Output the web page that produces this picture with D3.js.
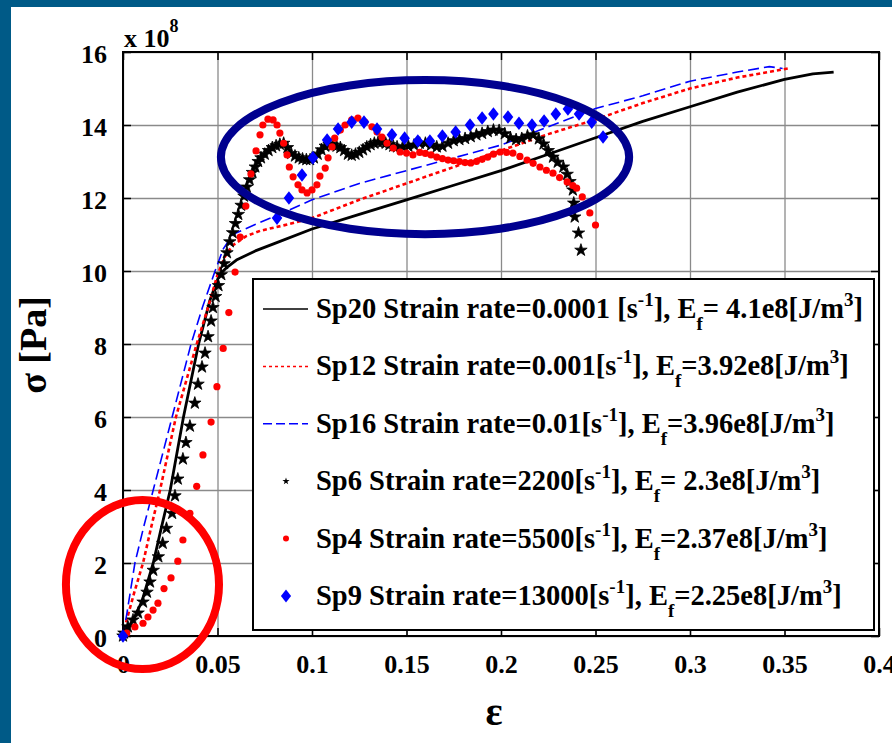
<!DOCTYPE html>
<html>
<head>
<meta charset="utf-8">
<script src="https://cdn.jsdelivr.net/npm/d3@7"></script>
<style>
  body { margin: 0; background: #fff; }
  svg { display: block; }
</style>
</head>
<body>
<script>
'use strict';

// ticks
var xTicks = [0, 0.05, 0.1, 0.15, 0.2, 0.25, 0.3, 0.35, 0.4];
var xTickLabels = ['0', '0.05', '0.1', '0.15', '0.2', '0.25', '0.3', '0.35', '0.4'];
var yTicks = [0, 2, 4, 6, 8, 10, 12, 14, 16];
var yTickLabels = ['0', '2', '4', '6', '8', '10', '12', '14', '16'];

// series: [strain, stress / 1e8 Pa]
var sp20 = [[0,0],[0.005,0.4],[0.01,0.95],[0.016,2.0],[0.02,2.9],[0.025,4.0],[0.032,6.0],[0.04,8.0],
  [0.046,9.2],[0.051,9.9],[0.055,10.1],[0.06,10.3],[0.07,10.55],[0.08,10.75],[0.1,11.15],[0.125,11.55],
  [0.15,11.95],[0.175,12.35],[0.2,12.75],[0.225,13.2],[0.25,13.65],[0.275,14.1],[0.3,14.5],[0.325,14.9],
  [0.35,15.25],[0.365,15.4],[0.376,15.45]];

var sp12 = [[0,0],[0.002,0.45],[0.006,1.2],[0.0106,2],[0.015,3],[0.0196,4],[0.028,6],[0.039,8],[0.045,9],
  [0.05,9.9],[0.054,10.4],[0.058,10.7],[0.065,10.95],[0.0725,11.1],[0.085,11.25],[0.1,11.45],[0.125,11.95],
  [0.15,12.4],[0.175,12.85],[0.2,13.3],[0.225,13.75],[0.25,14.15],[0.275,14.6],[0.3,15.0],[0.325,15.3],[0.352,15.55]];

var sp16 = [[0,0],[0.002,0.6],[0.0063,2],[0.011,3],[0.016,4],[0.026,6],[0.036,8],[0.042,9],[0.0487,10],
  [0.053,10.6],[0.058,11.0],[0.071,11.3],[0.085,11.6],[0.1,11.95],[0.125,12.4],[0.15,12.75],[0.175,13.1],
  [0.2,13.45],[0.225,13.95],[0.25,14.45],[0.275,14.8],[0.3,15.2],[0.325,15.45],[0.342,15.6],[0.349,15.55]];

var sp6 = [[0,0],[0.0005,0.08],[0.0026,0.25],[0.0053,0.44],[0.008,0.63],[0.0106,0.93],[0.0127,1.2],[0.0143,1.48],
  [0.016,1.8],[0.0187,2.17],[0.021,2.54],[0.023,2.95],[0.026,3.36],[0.0275,3.84],[0.029,4.3],[0.0317,4.85],
  [0.0333,5.3],[0.0354,5.75],[0.038,6.38],[0.0397,6.9],[0.0418,7.37],[0.0434,7.75],[0.045,8.2],[0.0466,8.63],
  [0.0476,9.0],[0.049,9.3],[0.0505,9.6],[0.052,9.9],[0.0535,10.2],[0.055,10.5],[0.0565,10.8],[0.058,11.05],
  [0.0595,11.3],[0.061,11.55],[0.0625,11.8],[0.064,12.05],[0.0655,12.3],[0.067,12.5],[0.0685,12.7],[0.07,12.85],
  [0.0715,13.0],[0.073,13.1],[0.075,13.2],[0.077,13.3],[0.079,13.38],[0.081,13.43],[0.083,13.47],[0.085,13.5],
  [0.087,13.38],[0.089,13.22],[0.091,13.15],[0.093,13.1],[0.095,13.07],[0.097,13.05],[0.099,13.05],[0.101,13.1],
  [0.103,13.2],[0.105,13.32],[0.107,13.42],[0.109,13.47],[0.111,13.45],[0.113,13.42],[0.115,13.38],[0.117,13.3],
  [0.119,13.2],[0.121,13.17],[0.123,13.2],[0.125,13.25],[0.127,13.32],[0.129,13.4],[0.131,13.46],[0.133,13.5],
  [0.135,13.53],[0.137,13.53],[0.139,13.5],[0.141,13.46],[0.143,13.42],[0.145,13.4],[0.148,13.4],[0.151,13.42],
  [0.154,13.45],[0.157,13.5],[0.16,13.5],[0.163,13.45],[0.166,13.4],[0.169,13.42],[0.172,13.5],[0.175,13.57],
  [0.178,13.6],[0.181,13.63],[0.184,13.68],[0.187,13.73],[0.19,13.77],[0.193,13.82],[0.196,13.86],[0.199,13.85],
  [0.202,13.76],[0.205,13.65],[0.208,13.6],[0.211,13.63],[0.214,13.7],[0.217,13.73],[0.22,13.62],[0.2225,13.48],
  [0.225,13.3],[0.2275,13.12],[0.23,12.98],[0.233,12.85],[0.235,12.65],[0.2365,12.45],[0.238,12.22],
  [0.2385,11.86],[0.239,11.48],[0.241,11.04],[0.2423,10.57]];

var sp4 = [[0,0],[0.002,0.08],[0.0063,0.25],[0.0106,0.35],[0.0132,0.52],[0.0159,0.71],[0.0185,0.9],[0.0217,1.3],
  [0.0254,1.59],[0.029,2.05],[0.0317,2.63],[0.0354,3.36],[0.039,4.1],[0.0423,4.96],[0.0466,5.86],[0.0497,6.83],
  [0.053,7.88],[0.056,8.86],[0.0593,9.97],[0.062,10.93],[0.065,11.78],[0.0677,12.66],[0.0704,13.29],[0.0725,13.73],
  [0.074,14.0],[0.0767,14.16],[0.0794,14.14],[0.0815,14.0],[0.083,13.78],[0.085,13.5],[0.0868,13.18],[0.088,12.85],
  [0.09,12.58],[0.0926,12.36],[0.0947,12.22],[0.0974,12.14],[0.1,12.22],[0.1026,12.36],[0.1042,12.6],[0.107,12.82],
  [0.1085,13.1],[0.1106,13.4],[0.112,13.64],[0.115,13.86],[0.1175,14.0],[0.121,14.14],[0.1243,14.19],[0.128,14.08],
  [0.1317,13.95],[0.1344,13.81],[0.137,13.67],[0.1397,13.5],[0.143,13.37],[0.1466,13.26],[0.15,13.23],[0.1534,13.18],
  [0.157,13.25],[0.16,13.22],[0.163,13.18],[0.166,13.12],[0.169,13.08],[0.172,13.04],[0.175,13.02],[0.178,13.0],
  [0.181,12.97],[0.184,12.96],[0.187,13.0],[0.19,13.06],[0.193,13.12],[0.196,13.2],[0.1995,13.26],[0.203,13.25],
  [0.2063,13.23],[0.21,13.14],[0.2138,13.04],[0.217,12.95],[0.2206,12.85],[0.224,12.76],[0.2275,12.68],[0.231,12.56],
  [0.235,12.44],[0.238,12.34],[0.24,12.27],[0.243,12.03],[0.247,11.59],[0.25,11.26]];

var sp9 = [[0,0],[0.0815,11.45],[0.0878,12.0],[0.0947,12.63],[0.1005,13.1],[0.108,13.59],[0.1138,13.89],[0.121,14.08],
  [0.1275,14.08],[0.1344,13.89],[0.1423,13.73],[0.149,13.64],[0.156,13.56],[0.1624,13.56],[0.169,13.7],[0.176,13.81],
  [0.1836,14.0],[0.19,14.19],[0.196,14.3],[0.2037,14.22],[0.2095,14.05],[0.2164,14.0],[0.2228,14.11],[0.229,14.3],
  [0.2354,14.44],[0.2413,14.3],[0.248,14.08],[0.254,13.67]];

var legendLabels = [
  'Sp20 Strain rate=0.0001 [s^{-1}], E_{f}= 4.1e8[J/m^{3}]',
  'Sp12 Strain rate=0.001[s^{-1}], E_{f}=3.92e8[J/m^{3}]',
  'Sp16 Strain rate=0.01[s^{-1}], E_{f}=3.96e8[J/m^{3}]',
  'Sp6 Strain rate=2200[s^{-1}], E_{f}= 2.3e8[J/m^{3}]',
  'Sp4 Strain rate=5500[s^{-1}], E_{f}=2.37e8[J/m^{3}]',
  'Sp9 Strain rate=13000[s^{-1}], E_{f}=2.25e8[J/m^{3}]'
];

// hand drawn highlight rings, in data units [cx, cy, rx, ry]
var blueRing = [0.1598, 13.12, 0.108, 2.11];
var redRing = [0.0103, 1.41, 0.0405, 2.315];

var FONT = 'Liberation Serif';
var width = 892, height = 743;
var plot = { left: 123, right: 879, top: 52, bottom: 636 };

var x = d3.scaleLinear().domain([0, 0.4]).range([plot.left, plot.right]);
var y = d3.scaleLinear().domain([0, 16]).range([plot.bottom, plot.top]);

var svg = d3.select('body').append('svg')
  .attr('width', width)
  .attr('height', height)
  .attr('font-family', FONT)
  .attr('font-weight', 'bold');

svg.append('rect').attr('width', width).attr('height', height).attr('fill', '#fff');
// frame bands of the slide
svg.append('rect').attr('x', 0).attr('y', 0).attr('width', width).attr('height', 7).attr('fill', '#005a87');
svg.append('rect').attr('x', 0).attr('y', 0).attr('width', 11).attr('height', height).attr('fill', '#005a87');

var pw = plot.right - plot.left, ph = plot.bottom - plot.top;

// grid
function gridStyle(g) {
  g.select('.domain').remove();
  g.selectAll('line').attr('stroke', '#8a8a8a').attr('stroke-width', 1.3);
}
svg.append('g')
  .attr('transform', 'translate(0,' + plot.bottom + ')')
  .call(d3.axisBottom(x).tickValues(xTicks).tickSize(-ph).tickFormat(''))
  .call(gridStyle);
svg.append('g')
  .attr('transform', 'translate(' + plot.left + ',0)')
  .call(d3.axisLeft(y).tickValues(yTicks).tickSize(-pw).tickFormat(''))
  .call(gridStyle);

// inward ticks on all four sides
function tickStyle(g) {
  g.attr('font-family', FONT).attr('font-size', 26);
  g.select('.domain').remove();
  g.selectAll('line').attr('stroke', '#000').attr('stroke-width', 1.5);
  g.selectAll('text').attr('font-family', FONT).attr('font-weight', 'bold').attr('font-size', 26);
}
svg.append('g')
  .attr('transform', 'translate(0,' + plot.bottom + ')')
  .call(d3.axisBottom(x).tickValues(xTicks).tickSize(-8).tickSizeOuter(0).tickPadding(19)
    .tickFormat(function (d, i) { return xTickLabels[i]; }))
  .call(tickStyle);
svg.append('g')
  .attr('transform', 'translate(0,' + plot.top + ')')
  .call(d3.axisTop(x).tickValues(xTicks).tickSize(-8).tickSizeOuter(0).tickFormat(''))
  .call(tickStyle);
svg.append('g')
  .attr('transform', 'translate(' + plot.left + ',0)')
  .call(d3.axisLeft(y).tickValues(yTicks).tickSize(-8).tickSizeOuter(0).tickPadding(16)
    .tickFormat(function (d, i) { return yTickLabels[i]; }))
  .call(tickStyle)
  .call(function (g) { g.selectAll('text').attr('dy', '0.42em'); });
svg.append('g')
  .attr('transform', 'translate(' + plot.right + ',0)')
  .call(d3.axisRight(y).tickValues(yTicks).tickSize(-8).tickSizeOuter(0).tickFormat(''))
  .call(tickStyle);

svg.append('rect')
  .attr('x', plot.left).attr('y', plot.top)
  .attr('width', pw).attr('height', ph)
  .attr('fill', 'none').attr('stroke', '#000').attr('stroke-width', 2);

// exponent note
var expo = svg.append('text').attr('x', plot.left + 1).attr('y', 47)
  .attr('font-family', FONT).attr('font-size', 26);
expo.append('tspan').text('x 10');
expo.append('tspan').attr('dy', -15).attr('font-size', 18).text('8');

// axis titles
svg.append('text')
  .attr('transform', 'translate(46,345) rotate(-90)')
  .attr('text-anchor', 'middle')
  .attr('font-family', FONT)
  .attr('font-size', 38)
  .text('\u03c3 [Pa]');
svg.append('text')
  .attr('x', 494).attr('y', 725)
  .attr('text-anchor', 'middle')
  .attr('font-family', FONT)
  .attr('font-size', 40)
  .text('\u03b5');

// data
var line = d3.line().x(function (d) { return x(d[0]); }).y(function (d) { return y(d[1]); });

var diamond = {
  draw: function (ctx, r) {
    ctx.moveTo(0, -r);
    ctx.lineTo(r * 0.78, 0);
    ctx.lineTo(0, r);
    ctx.lineTo(-r * 0.78, 0);
    ctx.closePath();
  }
};

var data = svg.append('g');

data.append('path').datum(sp20).attr('d', line)
  .attr('fill', 'none').attr('stroke', '#000').attr('stroke-width', 2.8).attr('stroke-linejoin', 'round');
data.append('path').datum(sp12).attr('d', line)
  .attr('fill', 'none').attr('stroke', '#ff0000').attr('stroke-width', 2.6).attr('stroke-dasharray', '4,3');
data.append('path').datum(sp16).attr('d', line)
  .attr('fill', 'none').attr('stroke', '#0000ff').attr('stroke-width', 1.6).attr('stroke-dasharray', '11,5');

data.selectAll('.sp6').data(sp6).enter().append('path')
  .attr('class', 'sp6')
  .attr('transform', function (d) { return 'translate(' + x(d[0]) + ',' + y(d[1]) + ')'; })
  .attr('d', d3.symbol().type(d3.symbolStar).size(48))
  .attr('fill', '#000')
  .attr('stroke', '#000').attr('stroke-width', 0.8).attr('stroke-linejoin', 'round');

data.selectAll('.sp4').data(sp4).enter().append('circle')
  .attr('class', 'sp4')
  .attr('cx', function (d) { return x(d[0]); })
  .attr('cy', function (d) { return y(d[1]); })
  .attr('r', 3.6)
  .attr('fill', '#ff0000');

data.selectAll('.sp9').data(sp9).enter().append('path')
  .attr('class', 'sp9')
  .attr('transform', function (d) { return 'translate(' + x(d[0]) + ',' + y(d[1]) + ')'; })
  .attr('d', d3.symbol().type(diamond).size(6.8))
  .attr('fill', '#0000ff');

// legend
var lg = svg.append('g');
var lgBox = { x0: 253, x1: 874, y0: 279, y1: 630 };
lg.append('rect')
  .attr('x', lgBox.x0).attr('y', lgBox.y0)
  .attr('width', lgBox.x1 - lgBox.x0).attr('height', lgBox.y1 - lgBox.y0)
  .attr('fill', '#fff').attr('stroke', '#000').attr('stroke-width', 2);

var rowStep = 57.4;

function richText(sel, str) {
  var parts = str.split(/(\^\{[^}]*\}|_\{[^}]*\})/);
  var shift = 0;
  parts.forEach(function (p) {
    if (!p) return;
    if (p[0] === '^') {
      sel.append('tspan').attr('dy', -12 - shift).attr('font-size', 19).text(p.slice(2, -1));
      shift = -12;
    } else if (p[0] === '_') {
      sel.append('tspan').attr('dy', 12 - shift).attr('font-size', 19).text(p.slice(2, -1));
      shift = 12;
    } else {
      sel.append('tspan').attr('dy', -shift).text(p);
      shift = 0;
    }
  });
}

legendLabels.forEach(function (label, i) {
  var base = lgBox.y0 + 39 + i * rowStep;
  var my = base - 9;
  var row = lg.append('g');
  if (i === 0) {
    row.append('line').attr('x1', 263).attr('x2', 308).attr('y1', my).attr('y2', my)
      .attr('stroke', '#000').attr('stroke-width', 1.5);
  } else if (i === 1) {
    row.append('line').attr('x1', 263).attr('x2', 308).attr('y1', my).attr('y2', my)
      .attr('stroke', '#ff0000').attr('stroke-width', 1.5).attr('stroke-dasharray', '3,3');
  } else if (i === 2) {
    row.append('line').attr('x1', 263).attr('x2', 308).attr('y1', my).attr('y2', my)
      .attr('stroke', '#0000ff').attr('stroke-width', 1.5).attr('stroke-dasharray', '9,4');
  } else if (i === 3) {
    row.append('path').attr('transform', 'translate(286,' + my + ')')
      .attr('d', d3.symbol().type(d3.symbolStar).size(16)).attr('fill', '#000');
  } else if (i === 4) {
    row.append('circle').attr('cx', 286).attr('cy', my).attr('r', 3).attr('fill', '#ff0000');
  } else {
    row.append('path').attr('transform', 'translate(286,' + my + ')')
      .attr('d', d3.symbol().type(diamond).size(6.5)).attr('fill', '#0000ff');
  }
  var t = row.append('text').attr('x', 316).attr('y', base)
    .attr('font-family', FONT).attr('font-size', 28.5);
  richText(t, label);
});

// highlight rings
svg.append('ellipse')
  .attr('cx', x(blueRing[0])).attr('cy', y(blueRing[1]))
  .attr('rx', x(blueRing[2]) - x(0)).attr('ry', y(0) - y(blueRing[3]))
  .attr('fill', 'none').attr('stroke', '#00008f').attr('stroke-width', 8);
svg.append('ellipse')
  .attr('cx', x(redRing[0])).attr('cy', y(redRing[1]))
  .attr('rx', x(redRing[2]) - x(0)).attr('ry', y(0) - y(redRing[3]))
  .attr('fill', 'none').attr('stroke', '#ff0000').attr('stroke-width', 8);
</script>
</body>
</html>
